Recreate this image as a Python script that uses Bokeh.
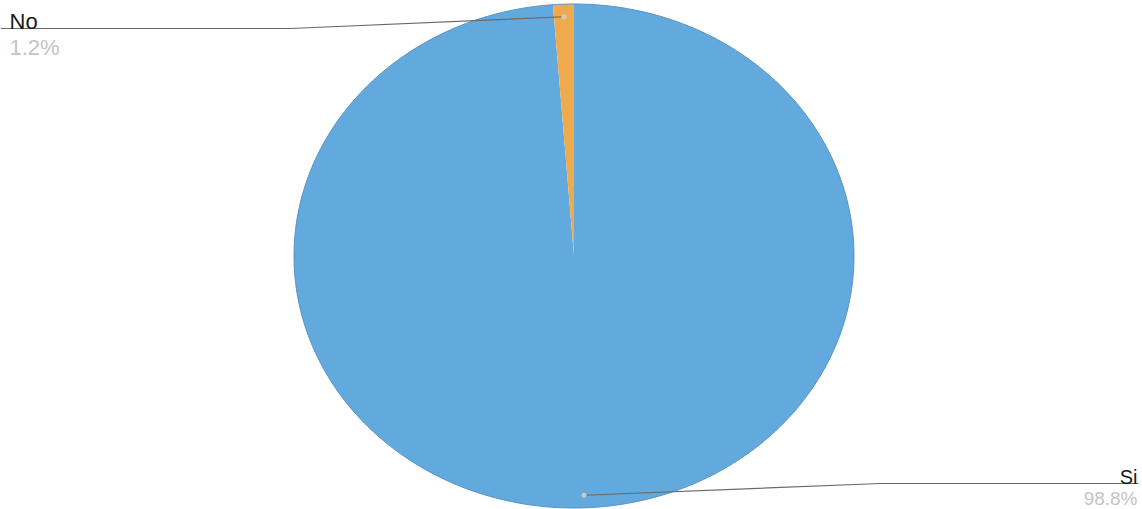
import numpy as np
from bokeh.plotting import figure
from bokeh.models import Range1d, ColumnDataSource
from bokeh.embed import file_html
from bokeh.resources import INLINE
from bokeh.core.properties import value

# ---- data ----
labels = ["Si", "No"]
values = [98.8, 1.2]
pct_labels = ["98.8%", "1.2%"]
colors = ["#62a9de", "#efaa4e"]

# ---- layout (reference pixel coordinates, y downwards) ----
CX, CY = 573.5, 255.5
RX, RY = 280.0, 252.0

p = figure(width=1142, height=509, output_backend="svg", toolbar_location=None,
           x_range=Range1d(0, 1142), y_range=Range1d(509, 0),
           min_border=0, outline_line_color=None)
p.axis.visible = False
p.grid.visible = False
p.background_fill_color = "white"

total = sum(values)
start = 0.0
xs, ys, mids = [], [], []
for v in values:
    span = v / total * 2 * np.pi
    th = np.linspace(start, start + span, max(4, int(span * 120)))
    x = np.concatenate([[CX], CX + RX * np.sin(th), [CX]])
    y = np.concatenate([[CY], CY - RY * np.cos(th), [CY]])
    xs.append(list(x)); ys.append(list(y))
    mids.append(start + span / 2)
    start += span

src = ColumnDataSource(dict(xs=xs, ys=ys, color=colors))
p.patches("xs", "ys", source=src, fill_color="color", line_color=None)
# subtle outline of the whole pie
tt = np.linspace(0, 2 * np.pi, 400)
p.line(CX + RX * np.sin(tt), CY - RY * np.cos(tt), line_color="#5a93c4", line_width=1)

# leader anchor points (on the slices)
ax = [CX + 0.95 * RX * np.sin(m) for m in mids]
ay = [CY - 0.95 * RY * np.cos(m) for m in mids]

# Si leader (bottom right)
p.line([ax[0], 880, 1138], [ay[0], 483, 483], line_color="#6a6a6a", line_width=1.2)
# No leader (top left)
p.line([ax[1], 290, 0], [ay[1], 28, 28], line_color="#6a6a6a", line_width=1.2)
p.scatter(ax, ay, size=5, color="#c9c9c9", line_color=None)

font = value("Liberation Sans")
p.text(x=[9], y=[21], text=[labels[1]], text_font=font, text_font_size="22px",
       text_color="#1a1a1a", text_align="left", text_baseline="alphabetic")
p.text(x=[9], y=[47], text=[pct_labels[1]], text_font=font, text_font_size="22px",
       text_color="#c4c4c4", text_align="left", text_baseline="alphabetic")
p.text(x=[1137], y=[476], text=[labels[0]], text_font=font, text_font_size="20px",
       text_color="#1a1a1a", text_align="right", text_baseline="alphabetic")
p.text(x=[1137], y=[498], text=[pct_labels[0]], text_font=font, text_font_size="19px",
       text_color="#c4c4c4", text_align="right", text_baseline="alphabetic")

open("out.html", "w").write(file_html(p, INLINE))
